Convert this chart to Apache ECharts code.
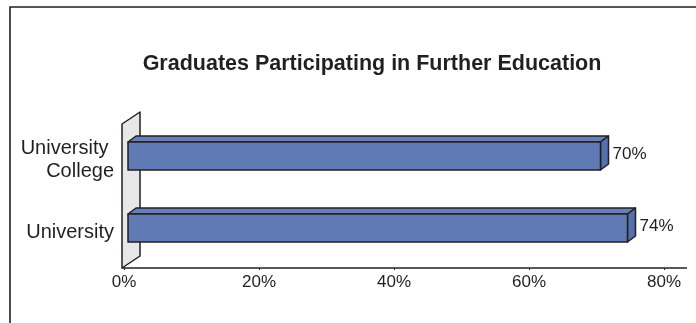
<!DOCTYPE html>
<html>
<head>
<meta charset="utf-8">
<script src="https://cdn.jsdelivr.net/npm/echarts@6/dist/echarts.min.js"></script>
<style>
html,body{margin:0;padding:0;background:#fff;}
#chart{width:696px;height:323px;}
</style>
</head>
<body>
<div id="chart"></div>
<script>
// Data (bottom-to-top order for the category axis)
var categories = ['University', 'University College'];
var values = [74, 70];
var xTickLabels = ['0%', '20%', '40%', '60%', '80%'];
var titleText = 'Graduates Participating in Further Education';

var INK = '#231f20';
var FONT = '"Liberation Sans", Arial, sans-serif';
var DX = 8, DY = -6;      // bar depth offset
var FX = 4, FY = -4;      // bar front face offset from the front plane
var WALL_DX = 18, WALL_DY = -12;
var BAR_H = 28;

var chart = echarts.init(document.getElementById('chart'), null, {renderer: 'canvas'});

function renderBar(params, api) {
  var ci = api.value(0);
  var v = api.value(1);
  var p0 = api.coord([0, ci]);
  var p1 = api.coord([v, ci]);
  var x0 = p0[0] + FX, x1 = p1[0] + FX;
  var yc = p0[1] + FY;
  var yt = yc - BAR_H / 2, yb = yc + BAR_H / 2;
  var st = {stroke: INK, lineWidth: 1.5, lineJoin: 'round'};
  return {
    type: 'group',
    children: [
      {type: 'polygon', shape: {points: [[x0, yt], [x0 + DX, yt + DY], [x1 + DX, yt + DY], [x1, yt]]},
        style: Object.assign({fill: '#6680bb'}, st)},
      {type: 'polygon', shape: {points: [[x1, yt], [x1 + DX, yt + DY], [x1 + DX, yb + DY], [x1, yb]]},
        style: Object.assign({fill: '#5571ad'}, st)},
      {type: 'rect', shape: {x: x0, y: yt, width: x1 - x0, height: BAR_H},
        style: Object.assign({fill: '#5f7ab5'}, st)},
      {type: 'text', style: {text: Math.round(v) + '%', x: x1 + DX + 4, y: yc - 2,
        textVerticalAlign: 'middle', verticalAlign: 'middle', fill: INK, font: '17px ' + FONT}}
    ]
  };
}

function renderWall(params, api) {
  var nc = categories.length;
  var band = api.size([0, 1])[1];
  var first = api.coord([0, 0]);
  var last = api.coord([0, nc - 1]);
  var end = api.coord([80, 0]);
  var x = first[0] - 2;
  var yb = first[1] + band / 2, yt = last[1] - band / 2;
  return {
    type: 'group',
    children: [
      {type: 'polygon', shape: {points: [[x, yb], [x, yt], [x + WALL_DX, yt + WALL_DY], [x + WALL_DX, yb + WALL_DY]]},
        style: {fill: '#e6e7e8', stroke: INK, lineWidth: 1.5, lineJoin: 'round'}},
      {type: 'line', shape: {x1: x, y1: yb, x2: end[0] + 23, y2: yb},
        style: {stroke: INK, lineWidth: 1.5}}
    ]
  };
}

var option = {
  animation: false,
  title: {
    text: titleText,
    left: 367, top: 48, textAlign: 'center',
    textStyle: {fontFamily: FONT, fontSize: 21.5, fontWeight: 'bold', color: INK}
  },
  graphic: [
    {type: 'polyline', shape: {points: [[10, 330], [10, 7], [700, 7]]},
      style: {stroke: INK, lineWidth: 1.6, fill: null}}
  ],
  grid: {left: 124, right: 32, top: 124, bottom: 55, containLabel: false},
  xAxis: {
    type: 'value', min: 0, max: 80, interval: 20,
    axisLine: {show: false},
    axisTick: {show: true, length: 2, lineStyle: {color: INK}},
    splitLine: {show: false},
    axisLabel: {
      formatter: function (v) { return xTickLabels[Math.round(v / 20)]; },
      fontFamily: FONT, fontSize: 17, color: INK, margin: 6
    }
  },
  yAxis: {
    type: 'category', data: categories,
    axisLine: {show: false}, axisTick: {show: false},
    axisLabel: {
      fontFamily: FONT, fontSize: 20, color: INK, margin: 10,
      width: 105, overflow: 'break', lineHeight: 23, align: 'right',
      padding: [0, 0, 4, 0]
    }
  },
  series: [
    {type: 'custom', renderItem: renderWall, data: [[0]], z: 1, silent: true},
    {type: 'custom', renderItem: renderBar, z: 2,
      encode: {y: 0, x: 1},
      data: categories.map(function (c, i) { return [i, values[i]]; })}
  ]
};
chart.setOption(option);
</script>
</body>
</html>
